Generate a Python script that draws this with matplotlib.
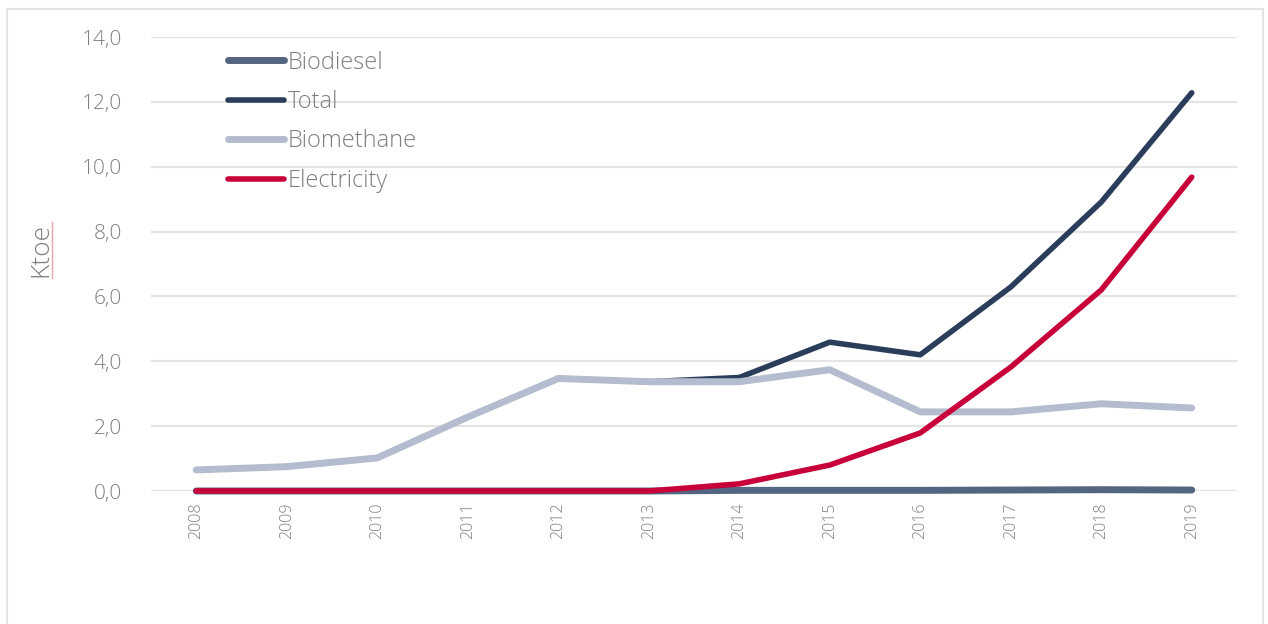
import matplotlib
matplotlib.use("Agg")
import matplotlib.pyplot as plt
from matplotlib.patches import Rectangle
from matplotlib.lines import Line2D

years = ["2008", "2009", "2010", "2011", "2012", "2013",
         "2014", "2015", "2016", "2017", "2018", "2019"]
biodiesel = [0.0, 0.0, 0.0, 0.0, 0.0, 0.0, 0.02, 0.02, 0.02, 0.03, 0.04, 0.03]
total = [0.65, 0.75, 1.02, 2.28, 3.47, 3.37, 3.50, 4.59, 4.20, 6.29, 8.91, 12.28]
biomethane = [0.65, 0.75, 1.02, 2.28, 3.47, 3.37, 3.37, 3.74, 2.44, 2.44, 2.69, 2.56]
electricity = [0.0, 0.0, 0.0, 0.0, 0.0, 0.0, 0.22, 0.80, 1.79, 3.82, 6.20, 9.68]
yticks = [0, 2, 4, 6, 8, 10, 12, 14]

series = [
    ("Biodiesel", biodiesel, "#536580", 5.0),
    ("Total", total, "#2a3d5a", 4.0),
    ("Biomethane", biomethane, "#b4bdcf", 5.0),
    ("Electricity", electricity, "#c8003a", 4.0),
]

plt.rcParams["font.family"] = ["Open Sans", "DejaVu Sans"]
text_color = "#7f7f7f"
weight = "light"

fig = plt.figure(figsize=(12.68, 6.24), dpi=100)
fig.patches.append(Rectangle((7 / 1268, -0.05), 1256 / 1268, 1.05 - 9 / 624,
                             transform=fig.transFigure, fill=False,
                             edgecolor="#e3e3e3", linewidth=1.5))

ax = fig.add_axes([151 / 1268, 133 / 624, 1086 / 1268, 454 / 624])
x = list(range(len(years)))
for name, vals, color, lw in series:
    ax.plot(x, vals, color=color, linewidth=lw, label=name,
            solid_capstyle="round", solid_joinstyle="round", clip_on=False)

ax.set_xlim(-0.5, len(years) - 0.5)
ax.set_ylim(0, 14)
ax.set_yticks(yticks)
ax.set_yticklabels([f"{v:.1f}".replace(".", ",") for v in yticks],
                   fontsize=15, color=text_color, fontweight=weight)
ax.set_xticks(x)
ax.set_xticklabels(years, rotation=90, fontsize=11.5, color=text_color,
                   fontweight=weight)
ax.tick_params(axis="both", length=0)
ax.tick_params(axis="y", pad=21)
ax.tick_params(axis="x", pad=8)
ax.grid(axis="y", color="#e4e4e4", linewidth=1.5)
ax.set_axisbelow(True)
for s in ax.spines.values():
    s.set_visible(False)

fig.text(41 / 1268, 1 - 250 / 624, "Ktoe", rotation=90, ha="center", va="center",
         fontsize=19, color=text_color, fontweight=weight)
fig.add_artist(Line2D([52 / 1268, 52 / 1268], [1 - 278 / 624, 1 - 222 / 624],
                      transform=fig.transFigure, color="#eaa3ad", linewidth=1.0))

leg = ax.legend(loc="upper left", bbox_to_anchor=(0.0622, 0.991), frameon=False,
                fontsize=17, handlelength=2.37, handletextpad=0.17,
                labelspacing=0.655, borderaxespad=0.0)
for t in leg.get_texts():
    t.set_color(text_color)
    t.set_fontweight(weight)

fig.savefig("out.png", dpi=100, facecolor="white")
